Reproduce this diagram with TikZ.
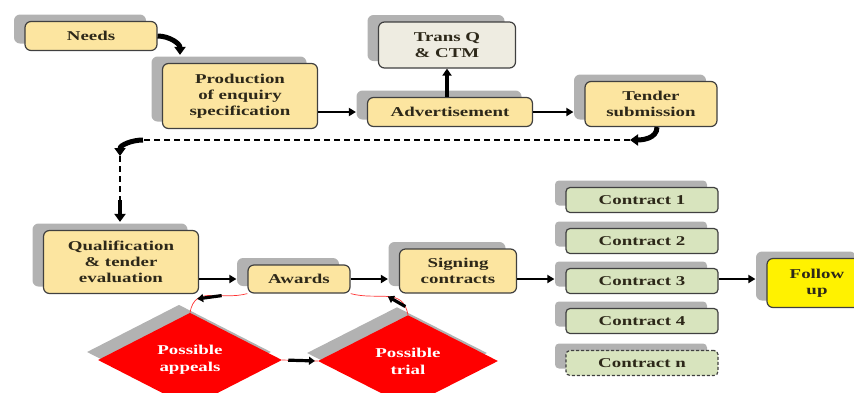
\documentclass[tikz,border=0pt]{standalone}
\usepackage{fontspec}
\setmainfont[FakeStretch=1.4]{Liberation Serif}
\usetikzlibrary{shapes.geometric,shadows,arrows.meta}
\definecolor{boxyellow}{RGB}{252,229,160}
\definecolor{boxgray}{RGB}{238,236,225}
\definecolor{boxgreen}{RGB}{216,228,190}
\definecolor{shadowgray}{RGB}{178,178,178}
\definecolor{inkdark}{RGB}{45,40,25}
\begin{document}
\begin{tikzpicture}[x=1pt,y=1pt,
 bx/.style={draw=black!75, line width=1.2pt, rounded corners=6pt, fill=boxyellow, text=inkdark, align=center, inner sep=0pt,
   font=\fontsize{13.5}{16}\selectfont\bfseries, drop shadow={shadow xshift=-11pt, shadow yshift=7pt, fill=shadowgray, opacity=1}},
 cbox/.style={bx, fill=boxgreen, minimum width=152pt, minimum height=25pt, rounded corners=4pt},
 dmd/.style={diamond, fill=red, text=white, align=center, inner sep=0pt, minimum width=184pt, minimum height=74pt,
   font=\fontsize{13.5}{17}\selectfont\bfseries, drop shadow={shadow xshift=-11pt, shadow yshift=8pt, fill=shadowgray, opacity=1}},
 harrow/.style={line width=2.6pt, -{Triangle[length=7pt,width=8pt]}, shorten >=11pt},
 bent/.style={line width=5pt, -{Triangle[length=8pt,width=11pt]}},
 dashline/.style={line width=1.1pt, dash pattern=on 6pt off 4pt},
 redline/.style={line width=.7pt, red!80},
 arcarrow/.style={line width=3.2pt, -{Triangle[length=6pt,width=8pt]}}]
\useasboundingbox (0,0) rectangle (854,-392);
\clip (0,0) rectangle (854,-392);
\node[bx, minimum width=132pt, minimum height=29pt] (needs) at (91,-36) {Needs};
\node[bx, minimum width=155pt, minimum height=65pt] (production) at (240,-96) {Production\\of enquiry\\specification};
\node[bx, fill=boxgray, minimum width=137pt, minimum height=46pt] (transq) at (447,-45) {Trans Q\\\& CTM};
\node[bx, minimum width=165pt, minimum height=29pt] (adv) at (450,-112) {Advertisement};
\node[bx, minimum width=132pt, minimum height=45pt] (tender) at (651,-104) {Tender\\submission};
\node[bx, minimum width=155pt, minimum height=63pt] (qual) at (121,-262) {Qualification\\\& tender\\evaluation};
\node[bx, minimum width=102pt, minimum height=28pt] (awards) at (299,-279) {Awards};
\node[bx, minimum width=117pt, minimum height=44pt] (signing) at (458,-271) {Signing\\contracts};
\foreach \n/\y in {1/200,2/241,3/281,4/321} \node[cbox] (c\n) at (642,-\y) {Contract \n};
\node[cbox, dash pattern=on 3pt off 2pt] (cn) at (642,-363) {Contract n};
\node[bx, fill=yellow, minimum width=100pt, minimum height=49pt] (follow) at (817,-283) {Follow\\up};
\node[dmd] (appeals) at (190,-360) {Possible\\appeals};
\node[dmd, minimum width=180pt] (trial) at (408,-361) {Possible\\trial};
\coordinate (dashR) at (630,-140);
\coordinate (dashL) at (143,-140);
\coordinate (turnL) at (120,-156);
\coordinate (dashD) at (120,-200);
\draw[bent] (needs.east) to[out=0,in=90] ([xshift=-60pt,yshift=8pt]production.north);
\draw[line width=3.2pt, -{Triangle[length=7pt,width=9pt]}] (adv.north -| transq.south) -- (transq.south);
\foreach \a/\b/\r in {production/adv/adv, adv/tender/adv, qual/awards/awards, awards/signing/awards, signing/c3/awards, c3/follow/awards}
  \draw[harrow] (\a.east |- \r.west) -- (\b.west |- \r.west);
\draw[bent] ([xshift=6pt]tender.south) to[out=-90,in=0] (dashR);
\draw[dashline] (dashR) -- (dashL);
\draw[bent] (dashL) to[out=180,in=90] (turnL);
\draw[dashline] (turnL) -- (dashD);
\draw[bent, line width=4pt] (dashD) -- ([xshift=-1pt,yshift=8pt]qual.north);
\draw[redline] (awards.south west) to[out=195,in=80,looseness=1.2] coordinate[pos=.33] (la1) coordinate[pos=.75] (la2) (appeals.north);
\draw[redline] (trial.north) to[out=100,in=-15,looseness=1.2] coordinate[pos=.12] (ra1) coordinate[pos=.5] (ra2) (awards.south east);
\draw[redline] (appeals.east) -- coordinate[pos=.17] (ma1) coordinate[pos=.92] (ma2) (trial.west);
\foreach \p/\q in {la1/la2, ra1/ra2, ma1/ma2} \draw[arcarrow] (\p) -- (\q);
\end{tikzpicture}
\end{document}
